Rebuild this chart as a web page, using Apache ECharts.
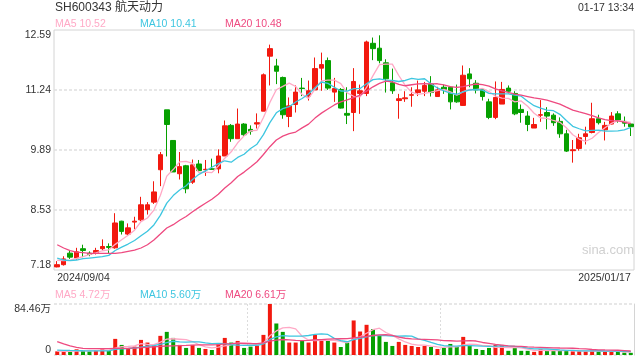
<!DOCTYPE html>
<html><head><meta charset="utf-8">
<script src="https://cdn.jsdelivr.net/npm/echarts@6/dist/echarts.min.js"></script>
<style>html,body{margin:0;padding:0;background:#fff}#c{width:640px;height:360px}</style>
</head><body><div id="c"></div>
<script>
const dates = [
'2024/09/04','2024/09/05','2024/09/06','2024/09/09','2024/09/10','2024/09/11','2024/09/12','2024/09/13','2024/09/18','2024/09/19',
'2024/09/20','2024/09/23','2024/09/24','2024/09/25','2024/09/26','2024/09/27','2024/09/30','2024/10/08','2024/10/09','2024/10/10',
'2024/10/11','2024/10/14','2024/10/15','2024/10/16','2024/10/17','2024/10/18','2024/10/21','2024/10/22','2024/10/23','2024/10/24',
'2024/10/25','2024/10/28','2024/10/29','2024/10/30','2024/10/31','2024/11/01','2024/11/04','2024/11/05','2024/11/06','2024/11/07',
'2024/11/08','2024/11/11','2024/11/12','2024/11/13','2024/11/14','2024/11/15','2024/11/18','2024/11/19','2024/11/20','2024/11/21',
'2024/11/22','2024/11/25','2024/11/26','2024/11/27','2024/11/28','2024/11/29','2024/12/02','2024/12/03','2024/12/04','2024/12/05',
'2024/12/06','2024/12/09','2024/12/10','2024/12/11','2024/12/12','2024/12/13','2024/12/16','2024/12/17','2024/12/18','2024/12/19',
'2024/12/20','2024/12/23','2024/12/24','2024/12/25','2024/12/26','2024/12/27','2024/12/30','2024/12/31','2025/01/02','2025/01/03',
'2025/01/06','2025/01/07','2025/01/08','2025/01/09','2025/01/10','2025/01/13','2025/01/14','2025/01/15','2025/01/16','2025/01/17'];

const open = [7.25,7.30,7.56,7.45,7.66,7.56,7.57,7.66,7.71,7.68,
8.28,7.99,8.26,8.31,8.54,8.71,9.44,10.79,10.10,9.35,
9.53,9.16,9.57,9.44,9.46,9.46,9.75,10.44,10.14,10.47,
10.35,10.47,10.76,12.00,11.78,11.52,10.64,10.91,11.28,11.10,
11.24,11.73,11.90,11.19,11.25,10.71,10.73,11.16,11.16,12.29,
12.18,11.85,11.40,11.00,11.04,11.12,11.18,11.21,11.37,11.09,
11.30,11.30,11.13,10.89,11.60,11.39,11.25,10.97,10.62,10.92,
11.28,11.16,10.80,10.65,10.38,10.67,10.73,10.67,10.53,10.25,
9.87,9.92,10.19,10.28,10.59,10.34,10.47,10.70,10.53,10.47];
const close = [7.30,7.43,7.47,7.59,7.62,7.53,7.62,7.71,7.69,8.24,
8.05,8.13,8.28,8.65,8.65,8.94,9.78,10.46,9.39,9.51,
9.01,9.55,9.42,9.45,9.45,9.75,10.43,10.14,10.47,10.23,
10.31,10.50,11.58,12.17,11.66,10.68,10.88,11.19,11.27,11.22,
11.72,11.81,11.28,11.27,10.83,10.67,11.43,11.22,12.32,12.17,
11.90,11.49,11.22,11.04,11.06,11.13,11.24,11.34,11.18,11.24,
11.25,10.97,10.97,11.57,11.49,11.24,11.09,10.62,11.07,11.25,
11.21,10.70,10.73,10.46,10.46,10.68,10.65,10.50,10.25,9.86,
9.89,10.16,10.25,10.59,10.50,10.44,10.65,10.56,10.49,10.41];
const low = [7.24,7.28,7.43,7.41,7.47,7.49,7.53,7.62,7.56,7.66,
7.98,7.96,8.10,8.28,8.43,8.67,9.07,9.74,9.39,9.22,
8.91,9.12,9.39,9.30,9.44,9.36,9.75,10.07,10.14,10.20,
10.23,10.37,10.76,11.34,11.37,10.59,10.40,10.73,11.10,11.00,
11.24,11.22,11.24,10.97,10.82,10.47,10.31,10.70,11.10,11.91,
11.84,11.18,11.15,10.59,10.97,10.86,11.10,11.10,11.09,11.09,
11.15,10.80,10.95,10.88,11.30,11.16,11.00,10.58,10.58,10.92,
11.16,10.67,10.50,10.31,10.38,10.52,10.35,10.43,10.16,9.84,
9.60,9.87,10.01,10.26,10.46,10.10,10.46,10.50,10.41,10.20];
const high = [7.38,7.49,7.62,7.68,7.75,7.60,7.68,7.87,7.78,8.46,
8.29,8.23,8.38,8.83,8.71,9.18,9.84,10.79,10.11,9.84,
9.55,9.67,9.66,9.66,9.69,9.90,10.55,10.47,10.82,10.49,
10.44,10.71,11.61,12.26,11.94,11.54,11.07,11.34,11.51,11.45,
11.97,12.08,11.97,11.51,11.28,11.30,11.73,11.36,12.35,12.42,
12.47,11.93,11.72,11.15,11.21,11.30,11.45,11.42,11.55,11.31,
11.36,11.31,11.36,11.79,11.73,11.46,11.28,11.04,11.43,11.42,
11.34,11.21,10.91,10.76,10.61,11.01,10.85,10.71,10.62,10.34,
10.11,10.25,10.41,10.95,10.68,10.52,10.74,10.76,10.64,10.49];
// volume in 万
const volume = [6,6,6,9.4,7.2,6,8.3,9.4,7.2,26.7,
16.7,11.1,13.9,25,20.6,15.6,31.7,38.3,28.3,16.7,
11.7,16.7,11.7,10,8.3,17.8,28.3,20.6,23.3,11.7,
13.9,15.6,33.3,84.46,52.2,38.3,20.6,20.6,23.3,20.6,
33.3,23.3,23.3,20.6,13.3,20.6,57.2,38.9,50,42.8,
32.8,21.7,15,21.7,16.7,15,13.3,15,13.3,10,
11.7,18.3,13.3,30,16.7,10,8.3,11.7,16.7,16.7,
6.9,11.9,6.9,6.9,5.2,9.6,6.9,6.9,7.4,7.5,
6.2,6.2,6.0,8.0,6.0,5.4,5.4,5.2,4.0,3.6];

// MA values before enough in-chart history
const ma5Head = [7.40,7.39,7.40,7.44];
const ma10Head = [7.45,7.405,7.39,7.405,7.435,7.45,7.465,7.48,7.51];
const ma20Head = [7.75,7.676,7.615,7.585,7.57,7.555,7.555,7.555,7.555,7.555,7.57,7.60,7.63,7.676,7.75,7.856,7.991,8.127,8.202];
const vma5Head = [6.5,6.2,6.0,6.5];
const vma10Head = [8.0,7.8,7.5,7.3,7.0,6.8,6.8,6.9,6.9];
const vma20Head = [22.2,18.3,15,12.8,11.1,10.6,10.6,10.6,10.6,11.1,11.1,11.1,11.7,12.2,12.8,13.6,14.3,14.9,15.2];

const priceTicks = [7.18, 8.53, 9.89, 11.24, 12.59];
const volMax = 84.46;
const titleText = 'SH600343 航天动力';
const timeText = '01-17 13:34';
const priceLegend = ['MA5 10.52', 'MA10 10.41', 'MA20 10.48'];
const volLegend = ['MA5 4.72万', 'MA10 5.60万', 'MA20 6.61万'];

const UP = '#f2190f', DOWN = '#06a000';
const MA_COLORS = ['#ffa9c6', '#3ec6e0', '#ee4a80'];
const FONT = '"Liberation Sans", Arial, "Noto Sans CJK SC", sans-serif';

function movingAverage(vals, n, head) {
  return vals.map((v, i) => {
    if (i < n - 1) return head[i];
    let s = 0;
    for (let k = i - n + 1; k <= i; k++) s += vals[k];
    return +(s / n).toFixed(3);
  });
}

const candles = dates.map((d, i) => [open[i], close[i], low[i], high[i]]);
const volData = volume.map((v, i) => ({
  value: v,
  itemStyle: { color: close[i] >= open[i] ? UP : DOWN }
}));

const chart = echarts.init(document.getElementById('c'), null, { renderer: 'canvas' });

const dotted = { color: '#e0e0e0', type: [3, 2], width: 1.5 };
function maLine(name, data, color, xi, yi) {
  return { name, type: 'line', data, xAxisIndex: xi, yAxisIndex: yi, showSymbol: false, symbol: 'none',
    smooth: false, lineStyle: { color, width: 1.3 }, silent: true, z: 3 };
}

const legendGraphics = [];
const legendX = [55, 140, 225];
priceLegend.forEach((t, i) => legendGraphics.push({ type: 'text', x: legendX[i], y: 24,
  style: { text: t, fill: MA_COLORS[i], font: '10.5px ' + FONT, textVerticalAlign: 'middle' } }));
volLegend.forEach((t, i) => legendGraphics.push({ type: 'text', x: legendX[i], y: 295,
  style: { text: t, fill: MA_COLORS[i], font: '10.5px ' + FONT, textVerticalAlign: 'middle' } }));

chart.setOption({
  animation: false,
  backgroundColor: '#fff',
  textStyle: { fontFamily: FONT },
  graphic: [
    { type: 'text', x: 55, y: 8, style: { text: titleText, fill: '#333', font: '12px ' + FONT, textVerticalAlign: 'middle' } },
    { type: 'text', x: 634, y: 8, style: { text: timeText, fill: '#333', font: '10.5px ' + FONT, textAlign: 'right', textVerticalAlign: 'middle' } },
    { type: 'text', x: 582, y: 250, style: { text: 'sina.com', fill: '#d0d0d0', font: '13px ' + FONT, textVerticalAlign: 'middle' }, z: 0 },
    ...legendGraphics
  ],
  grid: [
    { left: 54, right: 6, top: 30, height: 240, show: true, borderColor: '#d4d4d4', borderWidth: 1 },
    { left: 54, right: 6, top: 304, height: 51 }
  ],
  xAxis: [
    { type: 'category', data: dates, gridIndex: 0, boundaryGap: true,
      axisLine: { show: false }, axisTick: { show: false }, splitLine: { show: false },
      axisLabel: { show: true, interval: (i) => i === 0 || i === dates.length - 1, color: '#333', fontSize: 10.5, margin: 3,
        alignMinLabel: 'left', alignMaxLabel: 'right', hideOverlap: false } },
    { type: 'category', data: dates, gridIndex: 1, boundaryGap: true,
      axisLine: { show: false }, axisTick: { show: false }, axisLabel: { show: false },
      splitLine: { show: true, interval: (i) => i === 30 || i === 60, lineStyle: { color: '#dcdcdc', type: [2, 2], width: 1 } } }
  ],
  yAxis: [
    { type: 'value', gridIndex: 0, min: priceTicks[0], max: priceTicks[priceTicks.length - 1],
      axisLine: { show: false }, axisTick: { show: false }, splitLine: { show: false },
      axisLabel: { customValues: priceTicks, formatter: (v) => v.toFixed(2), color: '#333', fontSize: 10.5, margin: 3,
        verticalAlignMinLabel: 'bottom', verticalAlignMaxLabel: 'top' } },
    { type: 'value', gridIndex: 1, min: 0, max: volMax, interval: volMax,
      axisLine: { show: false }, axisTick: { show: false },
      splitLine: { show: true, lineStyle: dotted },
      axisLabel: { formatter: (v) => v === 0 ? '0' : v.toFixed(2) + '万', color: '#333', fontSize: 10.5, margin: 3,
        verticalAlignMinLabel: 'bottom', verticalAlignMaxLabel: 'top' } },
    { type: 'value', gridIndex: 1, position: 'right', min: 0, max: volMax,
      axisLine: { show: true, lineStyle: { color: '#d4d4d4', width: 1 } }, axisTick: { show: false },
      axisLabel: { show: false }, splitLine: { show: false } }
  ],
  series: [
    { name: 'K', type: 'candlestick', data: candles, xAxisIndex: 0, yAxisIndex: 0, barWidth: 5, z: 2,
      itemStyle: { color: UP, color0: DOWN, borderColor: UP, borderColor0: DOWN, borderWidth: 1 },
      markLine: { silent: true, symbol: ['none', 'none'], label: { show: false }, z: 1,
        lineStyle: dotted, emphasis: { disabled: true },
        data: priceTicks.slice(1, -1).map(v => ({ yAxis: v })) } },
    maLine('MA5', movingAverage(close, 5, ma5Head), MA_COLORS[0], 0, 0),
    maLine('MA10', movingAverage(close, 10, ma10Head), MA_COLORS[1], 0, 0),
    maLine('MA20', movingAverage(close, 20, ma20Head), MA_COLORS[2], 0, 0),
    { name: 'VOL', type: 'bar', data: volData, xAxisIndex: 1, yAxisIndex: 1, barWidth: 4, silent: true, z: 2 },
    maLine('VMA5', movingAverage(volume, 5, vma5Head), MA_COLORS[0], 1, 1),
    maLine('VMA10', movingAverage(volume, 10, vma10Head), MA_COLORS[1], 1, 1),
    maLine('VMA20', movingAverage(volume, 20, vma20Head), MA_COLORS[2], 1, 1)
  ]
});
</script>
</body></html>
